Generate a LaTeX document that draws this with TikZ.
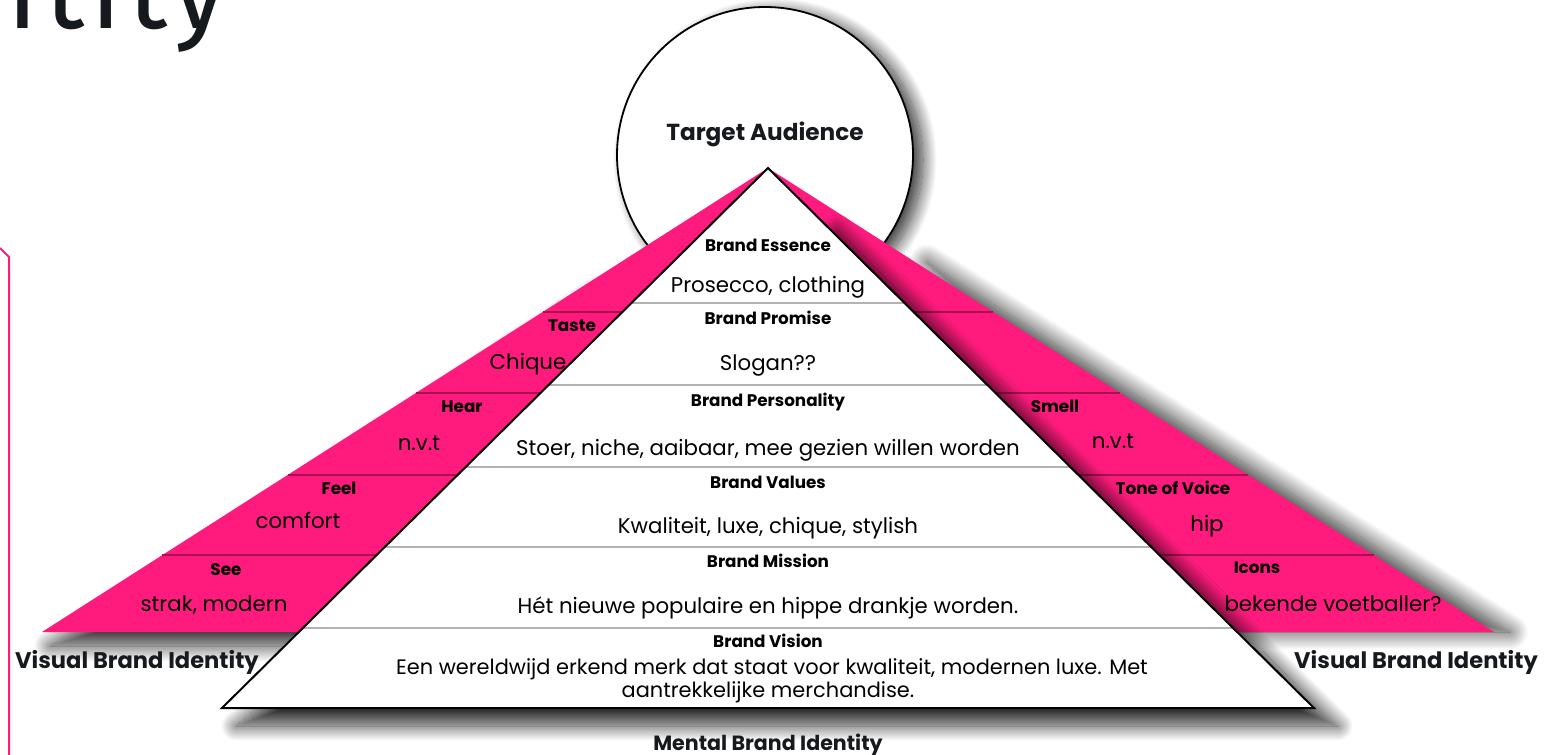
\documentclass[tikz,border=0pt]{standalone}
\usepackage{fontspec}
\setmainfont{Poppins}
\newfontfamily\headfont{Fira Sans}[LetterSpace = 5]
\usepackage{tikz}
\usetikzlibrary{calc}
\usetikzlibrary{shadows.blur}
\definecolor{brandpink}{HTML}{FF1B7D}
\definecolor{bandline}{HTML}{A8124F}
\definecolor{ink}{HTML}{16191D}
\tikzset{soft/.style n args = {3}{blur shadow = {shadow xshift = #1, shadow yshift = #2, shadow blur radius = #3, shadow blur steps = 24, shadow opacity = 80}}}
\tikzset{lbl/.style = {anchor = base, inner sep = 0, font = \bfseries\fontsize{16.8}{18}\selectfont}}
\tikzset{val/.style = {anchor = base, inner sep = 0, font = \fontsize{21.3}{24}\selectfont}}
\tikzset{big/.style = {anchor = base, inner sep = 0, text = ink, font = \bfseries\fontsize{22.6}{24}\selectfont}}

\begin{document}
\begin{tikzpicture}[x = 1pt, y = -1pt]
      \useasboundingbox (0, 0) rectangle (1556, 755);
      \node [anchor = base east, inner sep = 0, text = ink, font = \headfont\fontsize{112}{120}\selectfont] (head) at (228, 28) {Identity};
      \draw [brandpink, line width = 2] (0, 248) -- (9, 257) -- (9, 760);
      \node [circle, draw, fill = white, line width = 1.8, minimum size = 296, inner sep = 0, soft = {10pt}{-5pt}{14pt}] (aud) at (765, 155) {};
      \node [big, font = \bfseries\fontsize{23.2}{24}\selectfont] (audtxt) at (765, 140) {Target Audience};
      \coordinate (apex) at (768, 168);
      \coordinate (bl) at (222, 708);
      \coordinate (br) at (1314, 708);
      \path [soft = {0pt}{0pt}{16pt}] (600, 290) -- (50, 646) -- (310, 646) -- cycle;
      \path [soft = {0pt}{0pt}{18pt}] (927, 262) -- (1510, 632) -- (1240, 632) -- cycle;
      \fill [brandpink] (apex) -- (42, 632) -- (300, 632) -- cycle;
      \fill [brandpink] (apex) -- (1494, 632) -- (1236, 632) -- cycle;
      \foreach \y in {312, 393, 475, 555} {
        \pgfmathsetmacro\xo{768 - (\y - 168) * 1.5647}
        \pgfmathsetmacro\xt{768 - (\y - 168) * 1.0111}
        \draw [bandline, line width = 1.5] (\xo, \y) -- (\xt, \y);
        \draw [bandline, line width = 1.5] (1536 - \xo, \y) -- (1536 - \xt, \y);
      }
      \path [soft = {0pt}{0pt}{15pt}] (837, 230) -- (236, 726) -- (1338, 726) -- cycle;
      \fill [white] (apex) -- (bl) -- (br) -- cycle;
      \foreach \t in {0.25, 0.402, 0.554, 0.702, 0.852}
        \draw [black!30, line width = 2] ($(apex)!\t!(bl)$) -- ($(apex)!\t!(br)$);
      \draw [line width = 2] (apex) -- (bl) -- (br) -- cycle;
      \node [lbl] (ess) at (768, 251) {Brand Essence};
      \node [val] (essv) at (768, 292) {Prosecco, clothing};
      \node [lbl] (pro) at (768, 324) {Brand Promise};
      \node [val] (prov) at (768, 370) {Slogan??};
      \node [lbl] (per) at (768, 406) {Brand Personality};
      \node [val] (perv) at (768, 455) {Stoer, niche, aaibaar, mee gezien willen worden};
      \node [lbl] (vals) at (768, 488) {Brand Values};
      \node [val] (valsv) at (768, 533) {Kwaliteit, luxe, chique, stylish};
      \node [lbl] (mis) at (768, 567) {Brand Mission};
      \node [val] (misv) at (768, 613) {Hét nieuwe populaire en hippe drankje worden.};
      \node [lbl] (vis) at (768, 647) {Brand Vision};
      \node [val, font = \fontsize{20.9}{24}\selectfont] (visa) at (772, 674) {Een wereldwijd erkend merk dat staat voor kwaliteit, modernen luxe. Met};
      \node [val, font = \fontsize{20.9}{24}\selectfont] (visb) at (768, 697) {aantrekkelijke merchandise.};
      \node [lbl] (taste) at (572, 331) {Taste};
      \node [val] (tastev) at (528, 369) {Chique};
      \node [lbl] (hear) at (462, 412) {Hear};
      \node [val] (hearv) at (419, 450) {n.v.t};
      \node [lbl] (feel) at (339, 494) {Feel};
      \node [val] (feelv) at (298, 528) {comfort};
      \node [lbl] (see) at (226, 575) {See};
      \node [val] (seev) at (214, 611) {strak, modern};
      \node [lbl] (smell) at (1055, 412) {Smell};
      \node [val] (smellv) at (1113, 448) {n.v.t};
      \node [lbl] (tone) at (1173, 494) {Tone of Voice};
      \node [val] (tonev) at (1207, 531) {hip};
      \node [lbl] (icons) at (1257, 573) {Icons};
      \node [val] (iconsv) at (1333, 611) {bekende voetballer?};
      \node [big] (visl) at (137, 668) {Visual Brand Identity};
      \node [big] (visr) at (1416, 668) {Visual Brand Identity};
      \node [big, font = \bfseries\fontsize{20.6}{24}\selectfont] (ment) at (768, 750) {Mental Brand Identity};
    \end{tikzpicture}
\end{document}
